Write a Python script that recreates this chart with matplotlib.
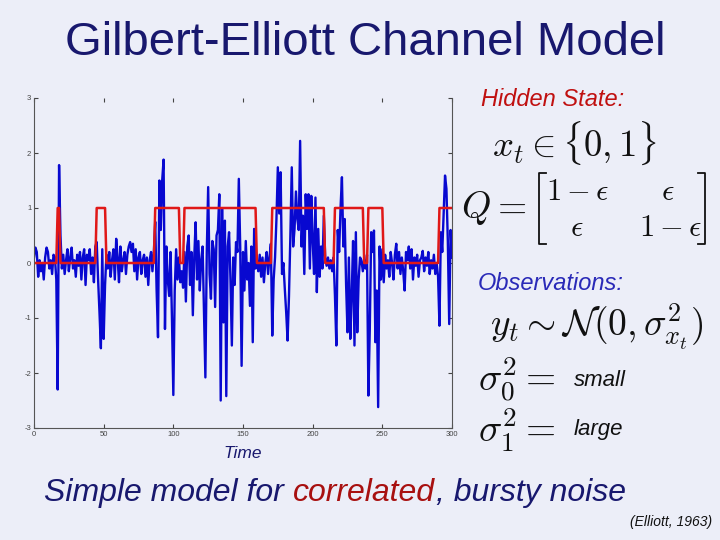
import numpy as np
import matplotlib
matplotlib.use('Agg')
import matplotlib.pyplot as plt
from matplotlib.lines import Line2D

plt.rcParams['font.family'] = ['Liberation Sans', 'DejaVu Sans']
plt.rcParams['mathtext.fontset'] = 'cm'
plt.rcParams['axes.unicode_minus'] = False

# observed noise y_t, one sample per time step 0..300
obs = [
    0.10, 0.28, 0.20, -0.25, 0.05, -0.15, 0.00, -0.30, 0.10, 0.28,
    0.20, -0.10, 0.05, -0.20, 0.15, 0.10, -0.30, -2.30, 1.78, 0.50,
    -0.10, 0.15, -0.20, 0.05, 0.25, -0.15, 0.10, 0.28, -0.10, 0.05,
    -0.25, 0.15, -0.05, 0.20, -0.30, 0.10, 0.25, -0.40, 0.15, 0.05,
    0.25, -0.20, 0.10, -0.35, 0.30, 0.38, -0.30, -0.90, -1.55, 0.25,
    -1.38, -0.40, 0.15, -0.10, 0.20, -0.25, 0.05, 0.25, -0.30, 0.44,
    0.10, -0.35, 0.30, -0.15, 0.05, 0.20, -0.20, 0.15, 0.30, 0.38,
    0.20, 0.35, -0.15, 0.25, -0.30, 0.10, 0.20, -0.20, 0.05, 0.15,
    -0.25, 0.10, -0.40, 0.05, 0.20, -0.15, 0.20, 0.75, -0.50, -1.35,
    1.50, 0.60, 1.50, 1.88, -1.20, 0.30, -0.30, -0.60, 0.20, -1.00,
    -2.40, -0.50, 0.25, -0.30, 0.10, -0.35, -0.15, -0.45, 0.20, -0.70,
    0.30, 0.50, -0.40, 0.20, -0.95, 0.10, 0.74, -0.30, 0.40, -0.50,
    0.05, 0.30, -0.90, -2.08, 0.20, 1.38, -0.20, -0.65, 0.40, 0.25,
    -0.80, 0.50, 0.60, 1.25, -2.50, 0.98, -1.08, 0.77, -2.42, 0.30,
    0.56, -0.30, -1.50, 0.10, -0.40, 0.38, 0.20, 1.53, 0.30, -1.87,
    0.20, -0.50, 0.40, -0.30, 0.00, -0.78, 0.30, -1.44, 0.62, -0.10,
    0.05, -0.15, 0.15, -0.25, 0.10, -0.35, 0.00, 0.20, -0.20, 0.10,
    0.35, -1.32, -0.30, 0.10, 0.80, 1.74, 0.90, 1.65, -0.20, 0.00,
    -0.47, -0.90, -1.41, -0.60, 0.50, 1.74, 0.30, 0.62, 1.30, 0.80,
    0.60, 2.22, 0.30, 0.86, -0.20, 1.25, 0.62, 1.25, -0.10, 1.22,
    0.40, -0.20, 1.19, -0.53, 0.62, -0.25, 0.30, -0.10, 0.86, 0.10,
    -0.05, 0.10, -0.10, 0.05, -0.15, 0.10, -0.60, -1.50, 0.60, 0.20,
    1.00, 1.56, 0.30, 0.80, -0.40, -1.26, 0.10, -1.38, -0.60, 0.40,
    -1.50, 0.56, -1.26, -0.30, 0.10, 0.05, -0.15, 0.05, -0.10, 0.15,
    -2.41, -1.20, 0.56, 0.20, 0.59, -1.44, -0.50, -2.62, 0.30, -0.30,
    0.25, -0.35, 0.15, -0.10, 0.05, -0.25, 0.20, 0.00, -0.30, 0.15,
    0.35, -0.10, 0.20, -0.20, 0.10, -0.15, -0.50, 0.20, 0.05, 0.30,
    -0.10, 0.25, -0.30, 0.10, -0.05, 0.15, -0.25, 0.05, 0.10, 0.22,
    -0.15, 0.10, -0.05, 0.20, -0.20, 0.05, -0.10, 0.15, -0.20, 0.00,
    -0.25, -1.14, 0.56, 0.20, 0.90, 1.59, 1.35, 0.40, -1.11, 0.60, 0.10,
]
assert len(obs) == 301

# hidden state x_t = 1 on these (inclusive) time ranges
burst_start = [17, 45, 87, 108, 171, 216, 240, 291]
burst_end = [18, 51, 104, 159, 208, 236, 250, 300]

time = np.arange(len(obs))
state = np.zeros(len(obs))
for a, b in zip(burst_start, burst_end):
    state[a:b + 1] = 1

bg = '#eceef8'
navy = '#18186e'

fig = plt.figure(figsize=(7.2, 5.4), dpi=100, facecolor=bg)
ax = fig.add_axes([34 / 720, 1 - 428 / 540, 418 / 720, 330 / 540])
ax.set_facecolor(bg)
ax.plot(time, obs, color='#0808d0', lw=1.7)
ax.plot(time, state, color='#e01818', lw=1.8)
ax.set_xlim(0, 300)
ax.set_ylim(-3, 3)
ax.set_xticks(range(0, 301, 50))
ax.set_yticks(range(-3, 4))
ax.tick_params(direction='in', length=3, labelsize=5.5, colors='#444',
               top=True, right=True, pad=2)
ax.spines['top'].set_visible(False)
for s in ['left', 'right', 'bottom']:
    ax.spines[s].set_color('#555')
    ax.spines[s].set_linewidth(0.8)


def P(x, y):
    # pixel position on the 720x540 slide -> figure fraction
    return x / 720, 1 - y / 540


fig.text(*P(365, 43), 'Gilbert-Elliott Channel Model', ha='center', va='center',
         fontsize=34, color=navy)
fig.text(*P(243, 453), 'Time', ha='center', va='center', fontsize=12.5,
         style='italic', color=navy)

fig.text(*P(481, 100), 'Hidden State:', ha='left', va='center', fontsize=17,
         style='italic', color='#c01010')
fig.text(*P(492, 143), r'$x_t \in \{\mathsf{0}, \mathsf{1}\}$', ha='left', va='center',
         fontsize=26.5, color='#111')
fig.text(*P(461, 208), r'$Q =$', ha='left', va='center', fontsize=27, color='#111')
fig.text(*P(578, 192), r'$1-\epsilon$', ha='center', va='center', fontsize=22, color='#111')
fig.text(*P(668, 192), r'$\epsilon$', ha='center', va='center', fontsize=22, color='#111')
fig.text(*P(577, 228), r'$\epsilon$', ha='center', va='center', fontsize=22, color='#111')
fig.text(*P(671, 228), r'$\mathsf{1}-\epsilon$', ha='center', va='center', fontsize=22,
         color='#111')
for xv, xs in [(539, 546), (705, 698)]:
    xs_ = [xs, xv, xv, xs]
    ys_ = [173, 173, 244, 244]
    fig.add_artist(Line2D([x / 720 for x in xs_], [1 - y / 540 for y in ys_],
                          color='#111', lw=1.3))

fig.text(*P(478, 283), 'Observations:', ha='left', va='center', fontsize=17,
         style='italic', color='#2a2ab8')
fig.text(*P(490, 327), r'$y_t \sim \mathcal{N}(\mathsf{0}, \sigma^{\mathsf{2}}_{x_t})$',
         ha='left', va='center', fontsize=27, color='#111')
fig.text(*P(478, 380), r'$\sigma^{\mathsf{2}}_{\mathsf{0}} =$', ha='left', va='center',
         fontsize=28, color='#111')
fig.text(*P(574, 380), 'small', ha='left', va='center', fontsize=16,
         style='italic', color='#111')
fig.text(*P(478, 430), r'$\sigma^{\mathsf{2}}_1 =$', ha='left', va='center',
         fontsize=28, color='#111')
fig.text(*P(574, 430), 'large', ha='left', va='center', fontsize=16,
         style='italic', color='#111')

# bottom line, with "correlated" in red
renderer = fig.canvas.get_renderer()
fs = 23
t1 = fig.text(*P(44, 501), 'Simple model for', ha='left', va='baseline',
              fontsize=fs, style='italic', color=navy)
x1 = t1.get_window_extent(renderer).x1 + fs * 100 / 72 * 0.278
t2 = fig.text(x1 / 720, 1 - 501 / 540, 'correlated', ha='left', va='baseline',
              fontsize=fs, style='italic', color='#a81010')
x2 = t2.get_window_extent(renderer).x1 + 1
fig.text(x2 / 720, 1 - 501 / 540, ', bursty noise', ha='left', va='baseline',
         fontsize=fs, style='italic', color=navy)

fig.text(*P(712, 522), '(Elliott, 1963)', ha='right', va='center', fontsize=10,
         style='italic', color='#111')

fig.savefig('out.png', dpi=100, facecolor=bg)
